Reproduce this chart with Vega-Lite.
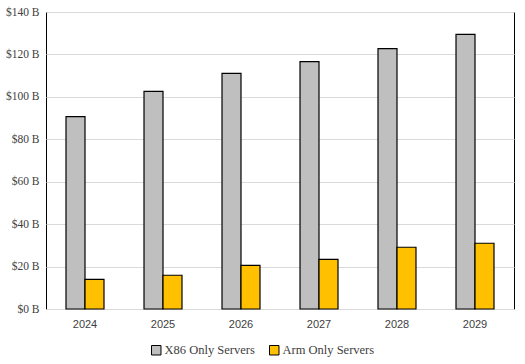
{
  "$schema": "https://vega.github.io/schema/vega-lite/v6.json",
  "width": 468,
  "height": 297,
  "autosize": "none",
  "padding": {"left": 46, "top": 12, "right": 11, "bottom": 55},
  "data": {
    "values": [
      {"year": "2024", "series": "X86 Only Servers", "value": 90.7},
      {"year": "2025", "series": "X86 Only Servers", "value": 102.6},
      {"year": "2026", "series": "X86 Only Servers", "value": 111.1},
      {"year": "2027", "series": "X86 Only Servers", "value": 116.6},
      {"year": "2028", "series": "X86 Only Servers", "value": 122.7},
      {"year": "2029", "series": "X86 Only Servers", "value": 129.5},
      {"year": "2024", "series": "Arm Only Servers", "value": 14.0},
      {"year": "2025", "series": "Arm Only Servers", "value": 15.9},
      {"year": "2026", "series": "Arm Only Servers", "value": 20.6},
      {"year": "2027", "series": "Arm Only Servers", "value": 23.4},
      {"year": "2028", "series": "Arm Only Servers", "value": 29.1},
      {"year": "2029", "series": "Arm Only Servers", "value": 31.0}
    ]
  },
  "mark": {"type": "bar", "stroke": "black", "strokeWidth": 1.2},
  "encoding": {
    "x": {
      "field": "year",
      "type": "nominal",
      "scale": {"paddingInner": 0.513, "paddingOuter": 0.2565},
      "axis": {
        "title": null,
        "labelAngle": 0,
        "ticks": false,
        "domainColor": "#d9d9d9",
        "labelFont": "Liberation Sans",
        "labelFontSize": 11,
        "labelColor": "#404040",
        "labelPadding": 9
      }
    },
    "xOffset": {
      "field": "series",
      "type": "nominal",
      "sort": ["X86 Only Servers", "Arm Only Servers"],
      "scale": {"paddingInner": 0, "paddingOuter": 0}
    },
    "y": {
      "field": "value",
      "type": "quantitative",
      "scale": {"domain": [0, 140]},
      "axis": {
        "title": null,
        "values": [0, 20, 40, 60, 80, 100, 120, 140],
        "labelExpr": "'$' + datum.value + ' B'",
        "ticks": false,
        "domain": false,
        "gridColor": "#d9d9d9",
        "labelFont": "Liberation Serif",
        "labelFontSize": 11.5,
        "labelColor": "#404040",
        "labelPadding": 7
      }
    },
    "color": {
      "field": "series",
      "type": "nominal",
      "sort": ["X86 Only Servers", "Arm Only Servers"],
      "scale": {"domain": ["X86 Only Servers", "Arm Only Servers"], "range": ["#bfbfbf", "#ffc000"]},
      "legend": {
        "title": null,
        "orient": "none",
        "legendX": 104,
        "legendY": 332,
        "direction": "horizontal",
        "symbolType": "square",
        "symbolSize": 90,
        "symbolStrokeColor": "black",
        "symbolStrokeWidth": 1,
        "labelFont": "Liberation Serif",
        "labelFontSize": 12.5,
        "labelColor": "#404040",
        "columnPadding": 12,
        "labelOffset": 2
      }
    }
  },
  "config": {"view": {"stroke": "black", "strokeWidth": 1}}
}
